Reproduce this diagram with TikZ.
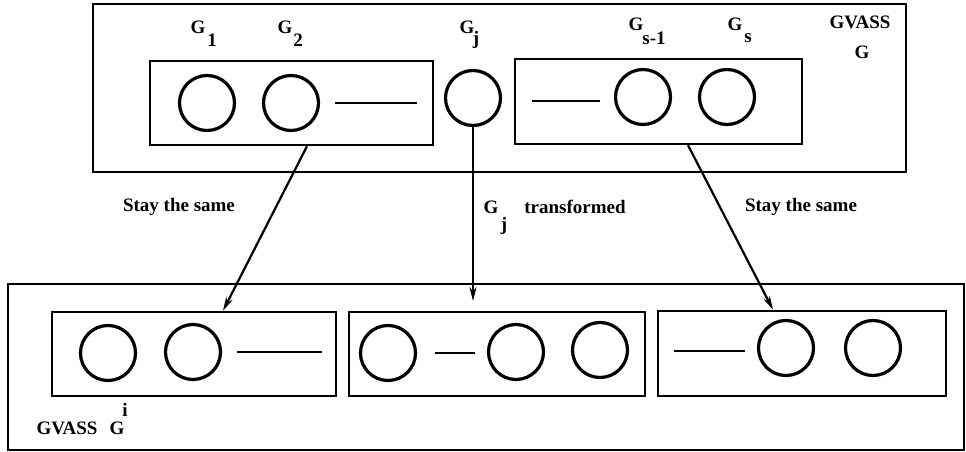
\documentclass[tikz,border=0pt]{standalone}
\usepackage{fontspec}
\setmainfont{Liberation Serif}
\usetikzlibrary{arrows.meta}
\begin{document}
\begin{tikzpicture}[x=1pt,y=-1pt,
  frame/.style={draw, line width=2.4pt, inner sep=0pt},
  gnode/.style={circle, draw, line width=3.2pt, minimum size=55pt, inner sep=0pt},
  dashline/.style={line width=2.6pt},
  lbl/.style={font=\fontsize{19}{22}\selectfont\bfseries, inner sep=0pt},
  arr/.style={line width=2.2pt, -{Stealth[length=14pt,width=7pt]}}]
\useasboundingbox (0,0) rectangle (966,452);
\fill[white] (0,0) rectangle (966,452);

% ---------- top GVASS G ----------
\node[frame, minimum width=813pt, minimum height=168pt] (top) at (499.5,88) {};
\node[frame, minimum width=283pt, minimum height=84pt] (L) at (291.5,103) {};
\node[frame, minimum width=287pt, minimum height=85pt] (R) at (658.5,101.5) {};
\node[gnode] (G1) at (207,103) {};
\node[gnode] (G2) at (291,103) {};
\node[gnode] (Gj) at (473,98) {};
\node[gnode] (Gs1) at (643,97) {};
\node[gnode] (Gs) at (727,97) {};
\draw[dashline] (335,103) -- (417,103);
\draw[dashline] (532,101) -- (600,101);

\node[lbl] (l1) at (198,27) {G};
\node[lbl] (l1s) at (212,40) {1};
\node[lbl] (l2) at (285,27) {G};
\node[lbl] (l2s) at (298,40) {2};
\node[lbl] (lj) at (467,27) {G};
\node[lbl] (ljs) at (476,40) {j};
\node[lbl] (ls1) at (636,24) {G};
\node[lbl] (ls1s) at (654,38) {s-1};
\node[lbl] (ls) at (735,24) {G};
\node[lbl] (lss) at (748,38) {s};
\node[lbl] (gv) at (860,22) {GVASS};
\node[lbl] (gvg) at (862,52) {G};

% ---------- bottom GVASS G^i ----------
\node[frame, minimum width=956pt, minimum height=166pt] (bot) at (486,367) {};
\node[frame, minimum width=284pt, minimum height=84pt] (B1) at (194,354) {};
\node[frame, minimum width=296pt, minimum height=84pt] (B2) at (497,354) {};
\node[frame, minimum width=288pt, minimum height=85pt] (B3) at (802,353.5) {};
\node[gnode] (b11) at (108,353) {};
\node[gnode] (b12) at (193,352) {};
\node[gnode] (b21) at (388,353) {};
\node[gnode] (b22) at (516,352) {};
\node[gnode] (b23) at (600,350) {};
\node[gnode] (b31) at (786,348) {};
\node[gnode] (b32) at (873,348) {};
\draw[dashline] (237,352) -- (322,352);
\draw[dashline] (435,353) -- (475,353);
\draw[dashline] (674,351) -- (745,351);

\node[lbl] (bgv) at (67,428) {GVASS};
\node[lbl] (bg) at (117,428) {G};
\node[lbl] (bgi) at (125,410) {i};

% ---------- arrows ----------
\coordinate (a1) at (307,0);
\coordinate (a1e) at (223,0);
\coordinate (a3) at (688,0);
\coordinate (a3e) at (773,0);
\coordinate (mid) at (473,301);
\draw[arr] (L.south -| a1) -- (B1.north -| a1e);
\draw[arr] (Gj.south) -- (mid);
\draw[arr] (R.south -| a3) -- (B3.north -| a3e);

\node[lbl] (st1) at (179,207) {Stay the same};
\node[lbl] (tg) at (491,207) {G};
\node[lbl] (tgj) at (504,226) {j};
\node[lbl] (tr) at (575,207) {transformed};
\node[lbl] (st2) at (801,207) {Stay the same};
\end{tikzpicture}
\end{document}
